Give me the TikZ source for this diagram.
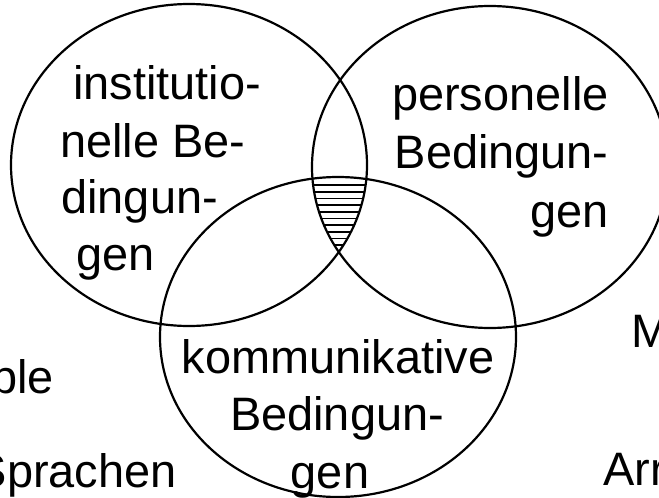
\documentclass[tikz,border=0pt]{standalone}
\usepackage{fontspec}
\setmainfont{Liberation Sans}
\begin{document}
\begin{tikzpicture}[x=.2mm,y=-.2mm,
		txt/.style={inner sep=0pt,font=\fontsize{26.7}{32.7}\selectfont},
		ring/.style={line width=1.25pt},
		hatch/.style={line width=1pt}]
			\useasboundingbox (0,0) rectangle (659,497);
			\coordinate (I) at (189,165);
			\coordinate (P) at (490,167);
			\coordinate (K) at (338,337);
			\begin{scope}
				\clip (I) ellipse (178 and 161);
				\clip (P) ellipse (178 and 161);
				\clip (K) ellipse (178 and 160);
				\foreach \y in {185,191.7,...,246}
					\draw[hatch] (290,\y) -- (390,\y);
			\end{scope}
			\draw[ring] (I) ellipse (178 and 161);
			\draw[ring] (P) ellipse (178 and 161);
			\draw[ring] (K) ellipse (178 and 160);
			\node[txt,anchor=base west] (i1) at (73,99) {institutio-};
			\node[txt,anchor=base west] (i2) at (60,157) {nelle Be-};
			\node[txt,anchor=base west] (i3) at (61,213) {dingun-};
			\node[txt,anchor=base west] (i4) at (76,270) {gen};
			\node[txt,anchor=base east] (p1) at (609,110) {personelle};
			\node[txt,anchor=base east] (p2) at (609,168) {Bedingun-};
			\node[txt,anchor=base east] (p3) at (609,227) {gen};
			\node[txt,anchor=base] (k1) at (338,373) {kommunikative};
			\node[txt,anchor=base] (k2) at (337,430) {Bedingun-};
			\node[txt,anchor=base] (k3) at (330,488) {gen};
			\node[txt,anchor=base east] (ple) at (54,393) {ple};
			\node[txt,anchor=base east] (spr) at (177,487) {Sprachen};
			\node[txt,anchor=base west] (m) at (631,347) {M};
			\node[txt,anchor=base west] (arr) at (603,485) {Arr};
\end{tikzpicture}
\end{document}
